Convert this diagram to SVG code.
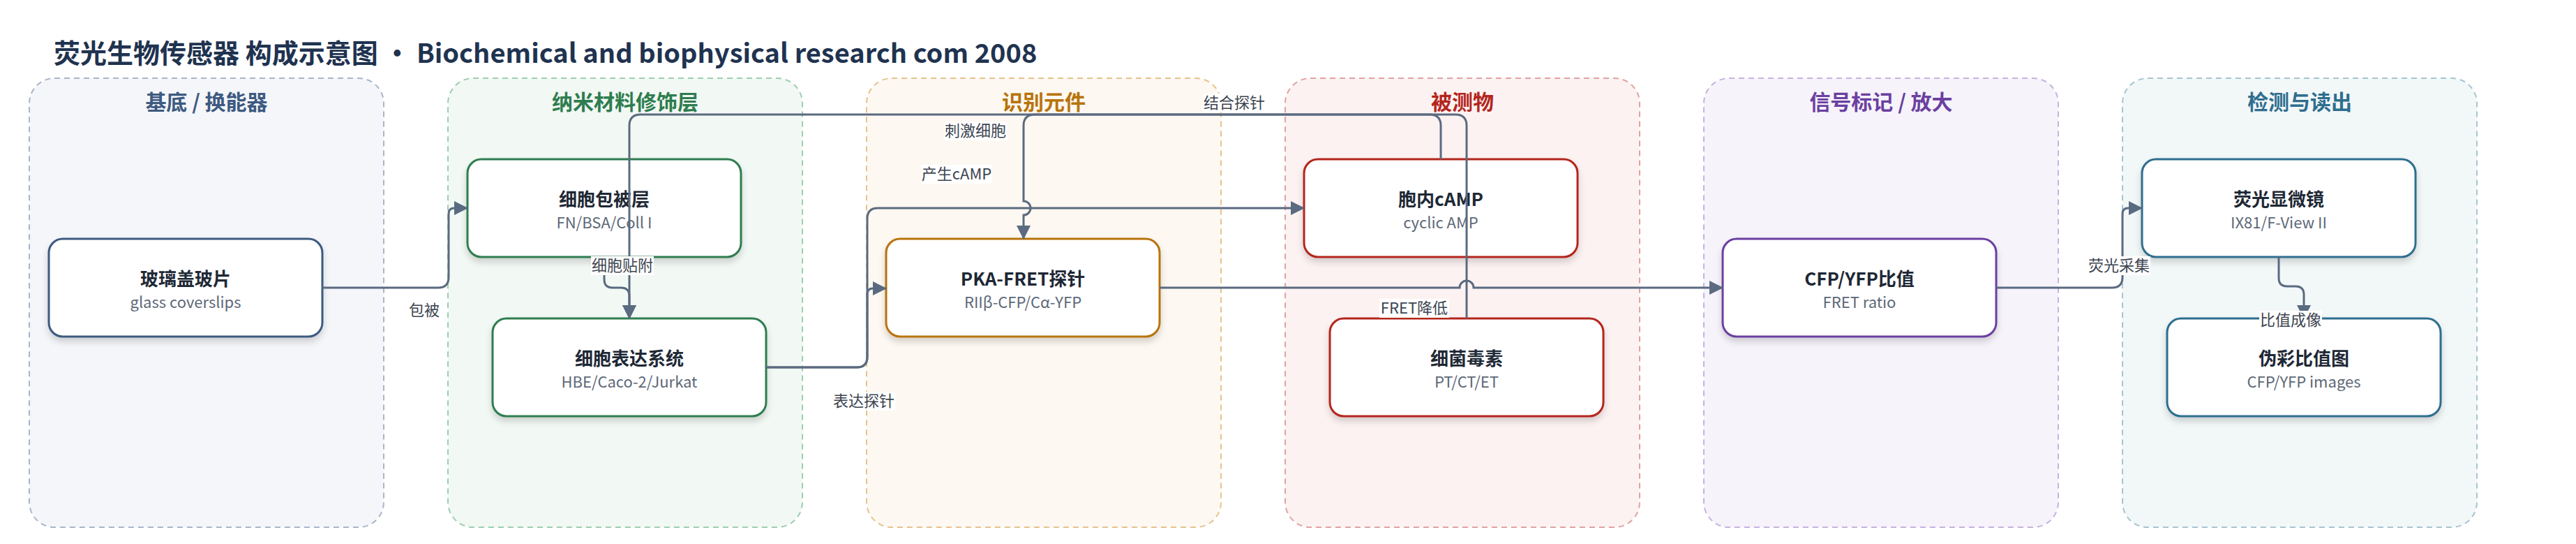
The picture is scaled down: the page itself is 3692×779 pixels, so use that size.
<svg xmlns="http://www.w3.org/2000/svg" width="3692" height="779" viewBox="0 0 3692 779">
<defs>
<filter id="sh" x="-10%" y="-10%" width="120%" height="135%">
<feDropShadow dx="0" dy="6" stdDeviation="5" flood-color="#000" flood-opacity="0.16"/>
</filter>
<marker id="arr" markerUnits="userSpaceOnUse" markerWidth="20" markerHeight="20" refX="19" refY="10" orient="auto">
<path d="M0,0 L20,10 L0,20 Z" fill="#5a6a80"/>
</marker>
<style>
text{font-family:"Noto Sans CJK SC","Noto Sans",sans-serif}
.title{font-size:38px;font-weight:700;fill:#1f3350}
.lane{stroke-width:2;stroke-dasharray:8 6}
.lt{font-size:30px;font-weight:700;text-anchor:middle}
.node{fill:#fff;stroke-width:3;filter:url(#sh)}
.nt{font-size:26px;font-weight:700;fill:#1e2835;text-anchor:middle}
.ns{font-size:22px;fill:#5d6878;text-anchor:middle}
.e{fill:none;stroke:#5a6a80;stroke-width:3}
.lb{fill:#fff}
.lx{font-size:22px;fill:#3c4450;text-anchor:middle}
</style>
</defs>
<rect width="3692" height="779" fill="#fff"/>
<text class="title" x="77" y="90">荧光生物传感器 构成示意图 · Biochemical and biophysical research com 2008</text>

<g id="lanes">
<g id="lane1"><rect class="lane" x="42" y="112" width="508" height="643" rx="36" fill="#f5f6fa" stroke="#a9b5c9"/><text class="lt" x="296" y="157" fill="#3d5a80">基底 / 换能器</text></g>
<g id="lane2"><rect class="lane" x="642" y="112" width="508" height="643" rx="36" fill="#f2f8f4" stroke="#9dceb0"/><text class="lt" x="896" y="157" fill="#2e7d4f">纳米材料修饰层</text></g>
<g id="lane3"><rect class="lane" x="1242" y="112" width="508" height="643" rx="36" fill="#fdf8f1" stroke="#e6c38e"/><text class="lt" x="1496" y="157" fill="#b8730b">识别元件</text></g>
<g id="lane4"><rect class="lane" x="1842" y="112" width="508" height="643" rx="36" fill="#fdf2f2" stroke="#e0a2a2"/><text class="lt" x="2096" y="157" fill="#b3261e">被测物</text></g>
<g id="lane5"><rect class="lane" x="2442" y="112" width="508" height="643" rx="36" fill="#f6f3fb" stroke="#c6b2e0"/><text class="lt" x="2696" y="157" fill="#6b3fa0">信号标记 / 放大</text></g>
<g id="lane6"><rect class="lane" x="3042" y="112" width="508" height="643" rx="36" fill="#f2f7f8" stroke="#a6c5d1"/><text class="lt" x="3296" y="157" fill="#2e6e8e">检测与读出</text></g>
</g>

<g id="n_glass"><rect class="node" x="70" y="342" width="392" height="140" rx="20" stroke="#3d5a80"/><text class="nt" x="266" y="409">玻璃盖玻片</text><text class="ns" x="266" y="441">glass coverslips</text></g>
<g id="n_coat"><rect class="node" x="670" y="228" width="392" height="140" rx="20" stroke="#2e7d4f"/><text class="nt" x="866" y="295">细胞包被层</text><text class="ns" x="866" y="327">FN/BSA/Coll I</text></g>
<g id="n_cell"><rect class="node" x="706" y="456" width="392" height="140" rx="20" stroke="#2e7d4f"/><text class="nt" x="902" y="523">细胞表达系统</text><text class="ns" x="902" y="555">HBE/Caco-2/Jurkat</text></g>
<g id="n_probe"><rect class="node" x="1270" y="342" width="392" height="140" rx="20" stroke="#b8730b"/><text class="nt" x="1466" y="409">PKA-FRET探针</text><text class="ns" x="1466" y="441">RIIβ-CFP/Cα-YFP</text></g>
<g id="n_camp"><rect class="node" x="1869" y="228" width="392" height="140" rx="20" stroke="#b3261e"/><text class="nt" x="2065" y="295">胞内cAMP</text><text class="ns" x="2065" y="327">cyclic AMP</text></g>
<g id="n_toxin"><rect class="node" x="1906" y="456" width="392" height="140" rx="20" stroke="#b3261e"/><text class="nt" x="2102" y="523">细菌毒素</text><text class="ns" x="2102" y="555">PT/CT/ET</text></g>
<g id="n_ratio"><rect class="node" x="2469" y="342" width="392" height="140" rx="20" stroke="#6b3fa0"/><text class="nt" x="2665" y="409">CFP/YFP比值</text><text class="ns" x="2665" y="441">FRET ratio</text></g>
<g id="n_micro"><rect class="node" x="3070" y="228" width="392" height="140" rx="20" stroke="#2e6e8e"/><text class="nt" x="3266" y="295">荧光显微镜</text><text class="ns" x="3266" y="327">IX81/F-View II</text></g>
<g id="n_image"><rect class="node" x="3106" y="456" width="392" height="140" rx="20" stroke="#2e6e8e"/><text class="nt" x="3302" y="523">伪彩比值图</text><text class="ns" x="3302" y="555">CFP/YFP images</text></g>

<g id="connectors">
<path class="e" marker-end="url(#arr)" d="M462 412 H628 Q643 412 643 397 V306 Q643 298 651 298 H670"/>
<path class="e" marker-end="url(#arr)" d="M866 368 V400 Q866 412 878 412 H890 Q902 412 902 424 V456"/>
<path class="e" marker-end="url(#arr)" d="M2102 456 V180 Q2102 164 2086 164 H918 Q902 164 902 180 V456"/>
<path class="e" marker-end="url(#arr)" d="M1098 526 H1228 Q1243 526 1243 511 V421 Q1243 413 1251 413 H1270"/>
<path class="e" marker-end="url(#arr)" d="M1098 526 H1228 Q1243 526 1243 511 V313 Q1243 298 1258 298 H1869"/>
<path class="e" marker-end="url(#arr)" d="M2065 228 V180 Q2065 164 2049 164 H1483 Q1467 164 1467 180 V288 A10 10 0 0 1 1467 308 V342"/>
<path class="e" marker-end="url(#arr)" d="M1662 412 H2092 A10 10 0 0 1 2112 412 H2469"/>
<path class="e" marker-end="url(#arr)" d="M2861 412 H3027 Q3042 412 3042 397 V306 Q3042 298 3050 298 H3070"/>
<path class="e" marker-end="url(#arr)" d="M3266 368 V398 Q3266 410 3278 410 H3290 Q3302 410 3302 422 V456"/>

<g id="labels">
<rect class="lb" x="584" y="431" width="48" height="27"/><text class="lx" x="608" y="452">包被</text>
<rect class="lb" x="847" y="367" width="90" height="27"/><text class="lx" x="892" y="388">细胞贴附</text>
<rect class="lb" x="1193" y="561" width="90" height="27"/><text class="lx" x="1238" y="582">表达探针</text>
<rect class="lb" x="1353" y="174" width="90" height="27"/><text class="lx" x="1398" y="195">刺激细胞</text>
<rect class="lb" x="1320" y="236" width="102" height="27"/><text class="lx" x="1371" y="257">产生cAMP</text>
<rect class="lb" x="1724" y="134" width="90" height="27"/><text class="lx" x="1769" y="155">结合探针</text>
<rect class="lb" x="1977" y="428" width="100" height="27"/><text class="lx" x="2027" y="449">FRET降低</text>
<rect class="lb" x="2992" y="367" width="90" height="27"/><text class="lx" x="3037" y="388">荧光采集</text>
<rect class="lb" x="3238" y="445" width="90" height="27"/><text class="lx" x="3283" y="466">比值成像</text>
</g>
</g>
</svg>
